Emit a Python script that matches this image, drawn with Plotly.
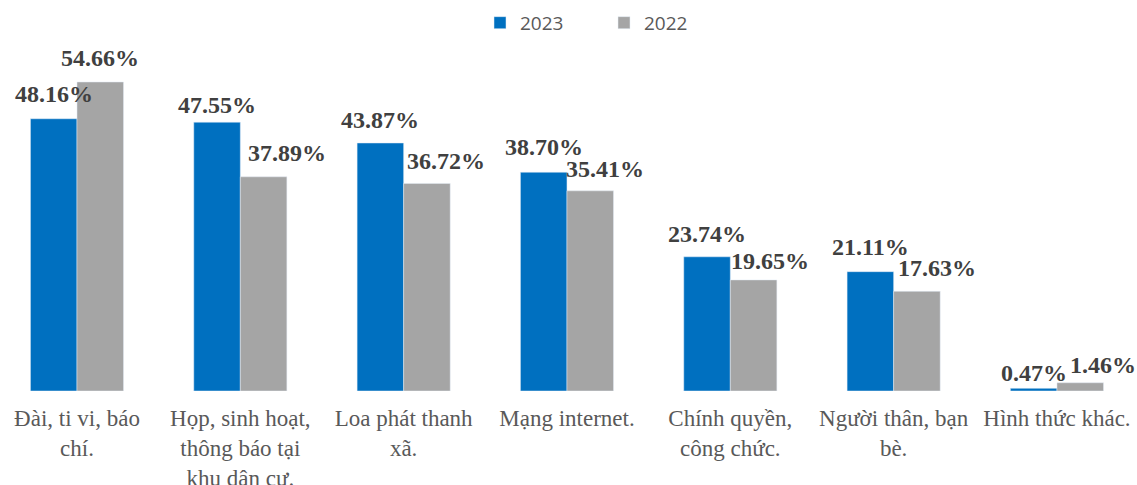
import plotly.graph_objects as go

categories = ["Đài, ti vi, báo<br>chí.", "Họp, sinh hoạt,<br>thông báo tại<br>khu dân cư.",
              "Loa phát thanh<br>xã.", "Mạng internet.", "Chính quyền,<br>công chức.",
              "Người thân, bạn<br>bè.", "Hình thức khác."]
v2023 = [48.16, 47.55, 43.87, 38.70, 23.74, 21.11, 0.47]
v2022 = [54.66, 37.89, 36.72, 35.41, 19.65, 17.63, 1.46]

# label offsets (style only, pixels)
shift_y_2023 = [25, 17, 23, 25, 23, 25, 15]
shift_y_2022 = [24, 24, 22, 22, 19, 23, 18]
shift_x_2022 = [0, 23, 19, 15, 16, 20, 23]

BLUE = "#0070C0"
GRAY = "#A5A5A5"
SERIF = "Times New Roman, Liberation Serif, serif"
xs = list(range(len(categories)))
half = 0.57 / 4

fig = go.Figure()
fig.add_trace(go.Bar(name="2023", x=xs, y=v2023, marker=dict(color=BLUE)))
fig.add_trace(go.Bar(name="2022", x=xs, y=v2022, marker=dict(color=GRAY)))

lab_font = dict(family=SERIF, size=24, color="#404040", weight="bold")
ann = []
for i, (a, b) in enumerate(zip(v2023, v2022)):
    ann.append(dict(x=i - half, y=a, xref="x", yref="y", text=f"{a:.2f}%",
                    showarrow=False, yanchor="middle", yshift=shift_y_2023[i], font=lab_font))
    ann.append(dict(x=i + half, y=b, xref="x", yref="y", text=f"{b:.2f}%",
                    showarrow=False, yanchor="middle", yshift=shift_y_2022[i],
                    xshift=shift_x_2022[i], font=lab_font))

fig.update_layout(
    width=1137, height=485,
    margin=dict(l=0, r=0, t=60, b=94),
    paper_bgcolor="white", plot_bgcolor="white",
    barmode="group", bargap=0.43, bargroupgap=0,
    annotations=ann,
    legend=dict(orientation="h", x=(520 - 40) / 1137, xanchor="left", y=1.055, yanchor="bottom",
                font=dict(family="Open Sans", size=19, color="#595959"),
                entrywidth=79, entrywidthmode="pixels"),
    xaxis=dict(range=[-0.4714, 6.49], tickvals=xs, ticktext=categories, showgrid=False,
               zeroline=False, showline=False, ticks="", ticklabelstandoff=11, automargin=False,
               tickfont=dict(family=SERIF, size=23, color="#595959")),
    yaxis=dict(range=[0, 58.55], visible=False, automargin=False),
    showlegend=True,
)
fig.write_html("out.html")
